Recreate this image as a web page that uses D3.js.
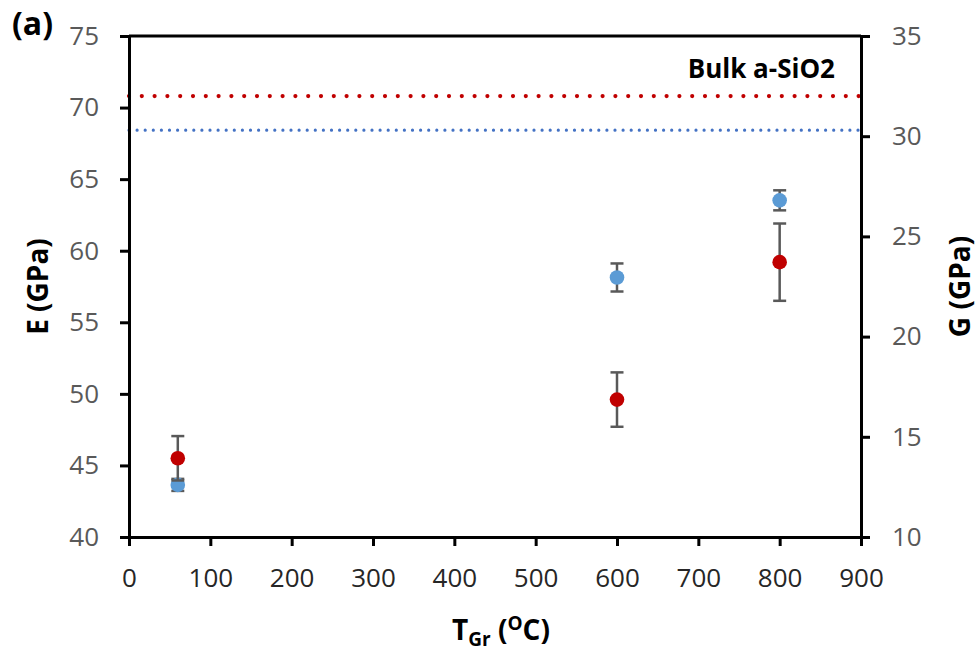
<!DOCTYPE html>
<html>
<head>
<meta charset="utf-8">
<script src="https://cdn.jsdelivr.net/npm/d3@7"></script>
<style>
  html, body { margin: 0; padding: 0; background: #fff; }
  svg { display: block; font-family: "Open Sans", "DejaVu Sans", sans-serif; }
</style>
</head>
<body>
<svg id="chart" width="979" height="654"></svg>
<script>
// Growth temperature (°C) of each sample
const temps = [60, 600, 800];
// Young's modulus E (GPa, left axis) with error
const eValues = [45.5, 49.6, 59.2];
const eErrors = [1.55, 1.9, 2.7];
// Shear modulus G (GPa, right axis) with error
const gValues = [12.6, 22.95, 26.8];
const gErrors = [0.3, 0.7, 0.5];
// Bulk amorphous silica reference levels
const bulkE = 70.8;
const bulkG = 30.3;

const xTicks = [0, 100, 200, 300, 400, 500, 600, 700, 800, 900];
const eTicks = [40, 45, 50, 55, 60, 65, 70, 75];
const gTicks = [10, 15, 20, 25, 30, 35];

const redColor = "#C00000";
const blueColor = "#5B9BD5";
const errColor = "#595959";
const yTickColor = "#595959";
const xTickColor = "#262626";

const svg = d3.select("#chart");
const plotLeft = 129, plotRight = 861, plotTop = 36, plotBottom = 537;

const x = d3.scaleLinear().domain([0, 900]).range([plotLeft, plotRight]);
const yE = d3.scaleLinear().domain([40, 75]).range([plotBottom, plotTop]);
const yG = d3.scaleLinear().domain([10, 35]).range([plotBottom, plotTop]);

function styleAxis(color) {
  return g => {
    g.selectAll(".domain").attr("stroke", "#000").attr("stroke-width", 3);
    g.selectAll(".tick line").attr("stroke", "#000").attr("stroke-width", 3);
    g.selectAll(".tick text")
      .attr("fill", color)
      .style("font-size", "26px")
      .style("font-family", "'Open Sans', sans-serif");
  };
}

// Bulk reference lines (dotted)
svg.append("line")
  .attr("x1", plotLeft).attr("x2", plotRight)
  .attr("y1", yE(bulkE)).attr("y2", yE(bulkE))
  .attr("stroke", redColor).attr("stroke-width", 4.2)
  .attr("stroke-linecap", "round")
  .attr("stroke-dasharray", "0 12.8");
svg.append("line")
  .attr("x1", plotLeft).attr("x2", plotRight)
  .attr("y1", yG(bulkG)).attr("y2", yG(bulkG))
  .attr("stroke", "#4472C4").attr("stroke-width", 3.2)
  .attr("stroke-linecap", "round")
  .attr("stroke-dasharray", "0 8.1");

// Top border of plot frame
svg.append("line")
  .attr("x1", plotLeft).attr("x2", plotRight)
  .attr("y1", plotTop).attr("y2", plotTop)
  .attr("stroke", "#000").attr("stroke-width", 3);

// Axes
svg.append("g")
  .attr("transform", `translate(0,${plotBottom})`)
  .call(d3.axisBottom(x).tickValues(xTicks).tickSize(9).tickSizeOuter(0).tickPadding(23))
  .call(styleAxis(xTickColor));

svg.append("g")
  .attr("transform", `translate(${plotLeft},0)`)
  .call(d3.axisLeft(yE).tickValues(eTicks).tickSize(9).tickSizeOuter(0).tickPadding(21))
  .call(styleAxis(yTickColor));

svg.append("g")
  .attr("transform", `translate(${plotRight},0)`)
  .call(d3.axisRight(yG).tickValues(gTicks).tickSize(9).tickSizeOuter(0).tickPadding(22))
  .call(styleAxis(yTickColor));

// Error bars + markers
function drawSeries(vals, errs, yScale, color) {
  const data = temps.map((t, i) => ({ t, v: vals[i], e: errs[i] }));
  const g = svg.append("g");
  const eb = g.selectAll(".eb").data(data).enter().append("g");
  eb.append("line")
    .attr("x1", d => x(d.t)).attr("x2", d => x(d.t))
    .attr("y1", d => yScale(d.v - d.e)).attr("y2", d => yScale(d.v + d.e))
    .attr("stroke", errColor).attr("stroke-width", 2.5);
  [1, -1].forEach(s => {
    eb.append("line")
      .attr("x1", d => x(d.t) - 6.5).attr("x2", d => x(d.t) + 6.5)
      .attr("y1", d => yScale(d.v + s * d.e)).attr("y2", d => yScale(d.v + s * d.e))
      .attr("stroke", errColor).attr("stroke-width", 2.5);
  });
  g.selectAll("circle").data(data).enter().append("circle")
    .attr("cx", d => x(d.t)).attr("cy", d => yScale(d.v))
    .attr("r", 7.3).attr("fill", color);
}
drawSeries(gValues, gErrors, yG, blueColor);
drawSeries(eValues, eErrors, yE, redColor);

// Labels
svg.append("text")
  .attr("x", 835).attr("y", 78)
  .attr("text-anchor", "end")
  .style("font-size", "26px").style("font-weight", "bold")
  .text("Bulk a-SiO2");

svg.append("text")
  .attr("x", 12).attr("y", 35)
  .style("font-size", "32px").style("font-weight", "bold")
  .text("(a)");

svg.append("text")
  .attr("transform", `translate(48,${(plotTop + plotBottom) / 2}) rotate(-90)`)
  .attr("text-anchor", "middle")
  .style("font-size", "28px").style("font-weight", "bold")
  .text("E (GPa)");

svg.append("text")
  .attr("transform", `translate(970,${(plotTop + plotBottom) / 2}) rotate(-90)`)
  .attr("text-anchor", "middle")
  .style("font-size", "28px").style("font-weight", "bold")
  .text("G (GPa)");

const xt = svg.append("text")
  .attr("x", 501).attr("y", 640)
  .attr("text-anchor", "middle")
  .style("font-size", "28px").style("font-weight", "bold");
xt.append("tspan").text("T");
xt.append("tspan").attr("dy", 6).style("font-size", "19px").text("Gr");
xt.append("tspan").attr("dy", -6).text(" (");
xt.append("tspan").attr("dy", -10).style("font-size", "19px").text("O");
xt.append("tspan").attr("dy", 10).text("C)");
</script>
</body>
</html>
